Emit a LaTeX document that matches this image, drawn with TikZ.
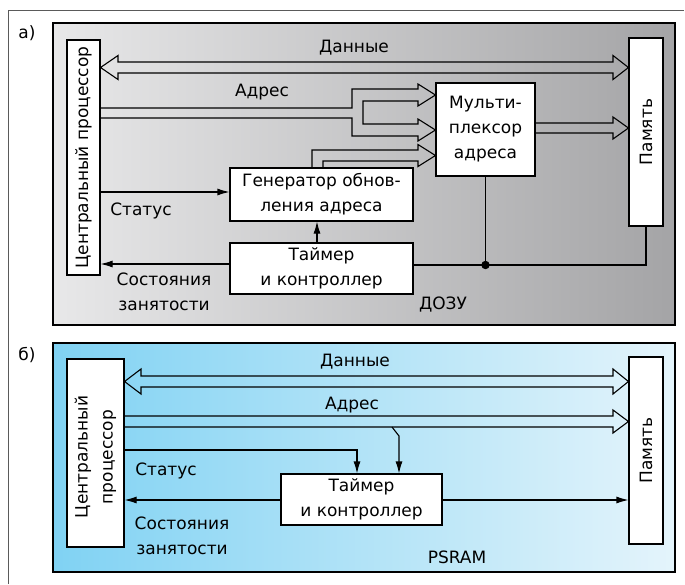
\documentclass[tikz,border=0pt]{standalone}
\usepackage{fontspec}
\setmainfont{DejaVu Sans}
\usetikzlibrary{arrows.meta,calc}
\definecolor{dramL}{RGB}{232,232,233}
\definecolor{dramR}{RGB}{164,164,166}
\definecolor{psrL}{RGB}{128,210,243}
\definecolor{psrR}{RGB}{228,244,251}
\definecolor{frameC}{RGB}{90,90,90}
\begin{document}
\begin{tikzpicture}[x=1pt,y=-1pt,
  blk/.style={draw=black, fill=white, line width=1.1pt, inner sep=0pt,
    align=center, font=\fontsize{17}{25}\selectfont},
  lbl/.style={inner sep=0pt, align=center, font=\fontsize{17}{25}\selectfont},
  sig/.style={draw=black, line width=1.1pt, -{Latex[length=12pt,width=7pt]}},
  wire/.style={draw=black, line width=1.1pt},
  bus/.style={draw=black, line width=1.1pt, line join=miter},
  panel/.style={draw=black, line width=1.1pt},
]
\useasboundingbox (0,0) rectangle (685,584);

% outer frame (top and left edges only)
\draw[frameC, line width=0.9pt] (8,584) -- (8,10) -- (684,10);

% ---------------- panel a: DRAM ----------------
\shade[left color=dramL, right color=dramR] (53,23) rectangle (675,325);
\draw[panel] (53,23) rectangle (675,325);
\node[lbl] (tagA) at (27,33) {а)};

\node[blk, minimum width=33, minimum height=235] (cpuA) at (83.5,157.5) {};
\node[lbl, rotate=90] (cpuAtxt) at (cpuA) {Центральный процессор};
\node[blk, minimum width=34, minimum height=188] (memA) at (646,132) {};
\node[lbl, rotate=90] (memAtxt) at (memA) {Память};
\node[blk, minimum width=99, minimum height=93] (muxA) at (485.5,129.5) {Мульти-\\плексор\\адреса};
\node[blk, minimum width=183, minimum height=53] (genA) at (321.5,194.5) {Генератор обнов-\\ления адреса};
\node[blk, minimum width=183, minimum height=51] (tmrA) at (321.5,268.5) {Таймер\\и контроллер};

% data bus
\draw[bus] (cpuA.east |- 0,67.5) -- (118,55.5) -- (118,62) -- (613,62) -- (613,55.5)
  -- (memA.west |- 0,67.5) -- (613,79.5) -- (613,73) -- (118,73) -- (118,79.5) -- cycle;
\node[lbl] (dataA) at (354,48) {Данные};

% address bus split into two multiplexer inputs
\draw[bus] (cpuA.east |- 0,108) -- (352,108) -- (352,89) -- (418,89) -- (418,84)
  -- (muxA.west |- 0,95) -- (418,106) -- (418,101) -- (363,101) -- (363,124)
  -- (418,124) -- (418,119) -- (muxA.west |- 0,130) -- (418,141) -- (418,136)
  -- (352,136) -- (352,118) -- (cpuA.east |- 0,118);
\node[lbl] (addrA) at (262,92) {Адрес};

% refresh address into multiplexer
\draw[bus] (genA.north -| 312,0) -- (312,150) -- (418,150) -- (418,144.5)
  -- (muxA.west |- 0,155.5) -- (418,166.5) -- (418,161) -- (323,161) -- (genA.north -| 323,0);

% multiplexer output to memory
\draw[bus] (muxA.east |- 0,123) -- (613,123) -- (613,117) -- (memA.west |- 0,128)
  -- (613,139) -- (613,133) -- (muxA.east |- 0,133);

% control signals
\draw[sig] (cpuA.east |- 0,192) -- (genA.west |- 0,192);
\node[lbl] (statA) at (141,211) {Статус};
\draw[sig] (tmrA.west |- 0,264) -- (cpuA.east |- 0,264);
\node[lbl] (busyA) at (164,292) {Состояния\\занятости};
\draw[sig] (tmrA.north -| 317,0) -- (genA.south -| 317,0);
\coordinate (jn) at (485.5,265);
\draw[wire] (tmrA.east |- jn) -- (memA.south |- jn) -- (memA.south);
\draw[wire] (muxA.south) -- (jn);
\fill (jn) circle (4.2);
\node[lbl] (nameA) at (443,305) {ДОЗУ};

% ---------------- panel b: PSRAM ----------------
\shade[left color=psrL, right color=psrR] (53,343) rectangle (675,572);
\draw[panel] (53,343) rectangle (675,572);
\node[lbl] (tagB) at (27,355) {б)};

\node[blk, minimum width=57, minimum height=188] (cpuB) at (95.5,453) {};
\node[lbl, rotate=90] (cpuBtxt) at (95.5,457) {Центральный\\процессор};
\node[blk, minimum width=34, minimum height=187] (memB) at (646,450.5) {};
\node[lbl, rotate=90] (memBtxt) at (memB) {Память};
\node[blk, minimum width=161, minimum height=51] (tmrB) at (361.5,499.5) {Таймер\\и контроллер};

% data bus
\draw[bus] (cpuB.east |- 0,381.5) -- (141,369) -- (141,376) -- (613,376) -- (613,369)
  -- (memB.west |- 0,381.5) -- (613,394) -- (613,387) -- (141,387) -- (141,394) -- cycle;
\node[lbl] (dataB) at (355,362) {Данные};

% address bus
\draw[bus] (cpuB.east |- 0,416) -- (613,416) -- (613,410) -- (memB.west |- 0,421.5)
  -- (613,433) -- (613,427) -- (cpuB.east |- 0,427);
\node[lbl] (addrB) at (352,405) {Адрес};

% control signals
\coordinate (tap) at (392,427);
\draw[sig] (tap) -- (399,436) -- (tmrB.north -| 399,0);
\draw[sig] (cpuB.east |- 0,450) -- (357,450) -- (tmrB.north -| 357,0);
\node[lbl] (statB) at (166,471) {Статус};
\draw[sig] (tmrB.west |- 0,500) -- (cpuB.east |- 0,500);
\node[lbl] (busyB) at (182,535.5) {Состояния\\занятости};
\draw[sig] (tmrB.east |- 0,500) -- (memB.west |- 0,500);
\node[lbl] (nameB) at (457,557) {PSRAM};
\end{tikzpicture}
\end{document}
